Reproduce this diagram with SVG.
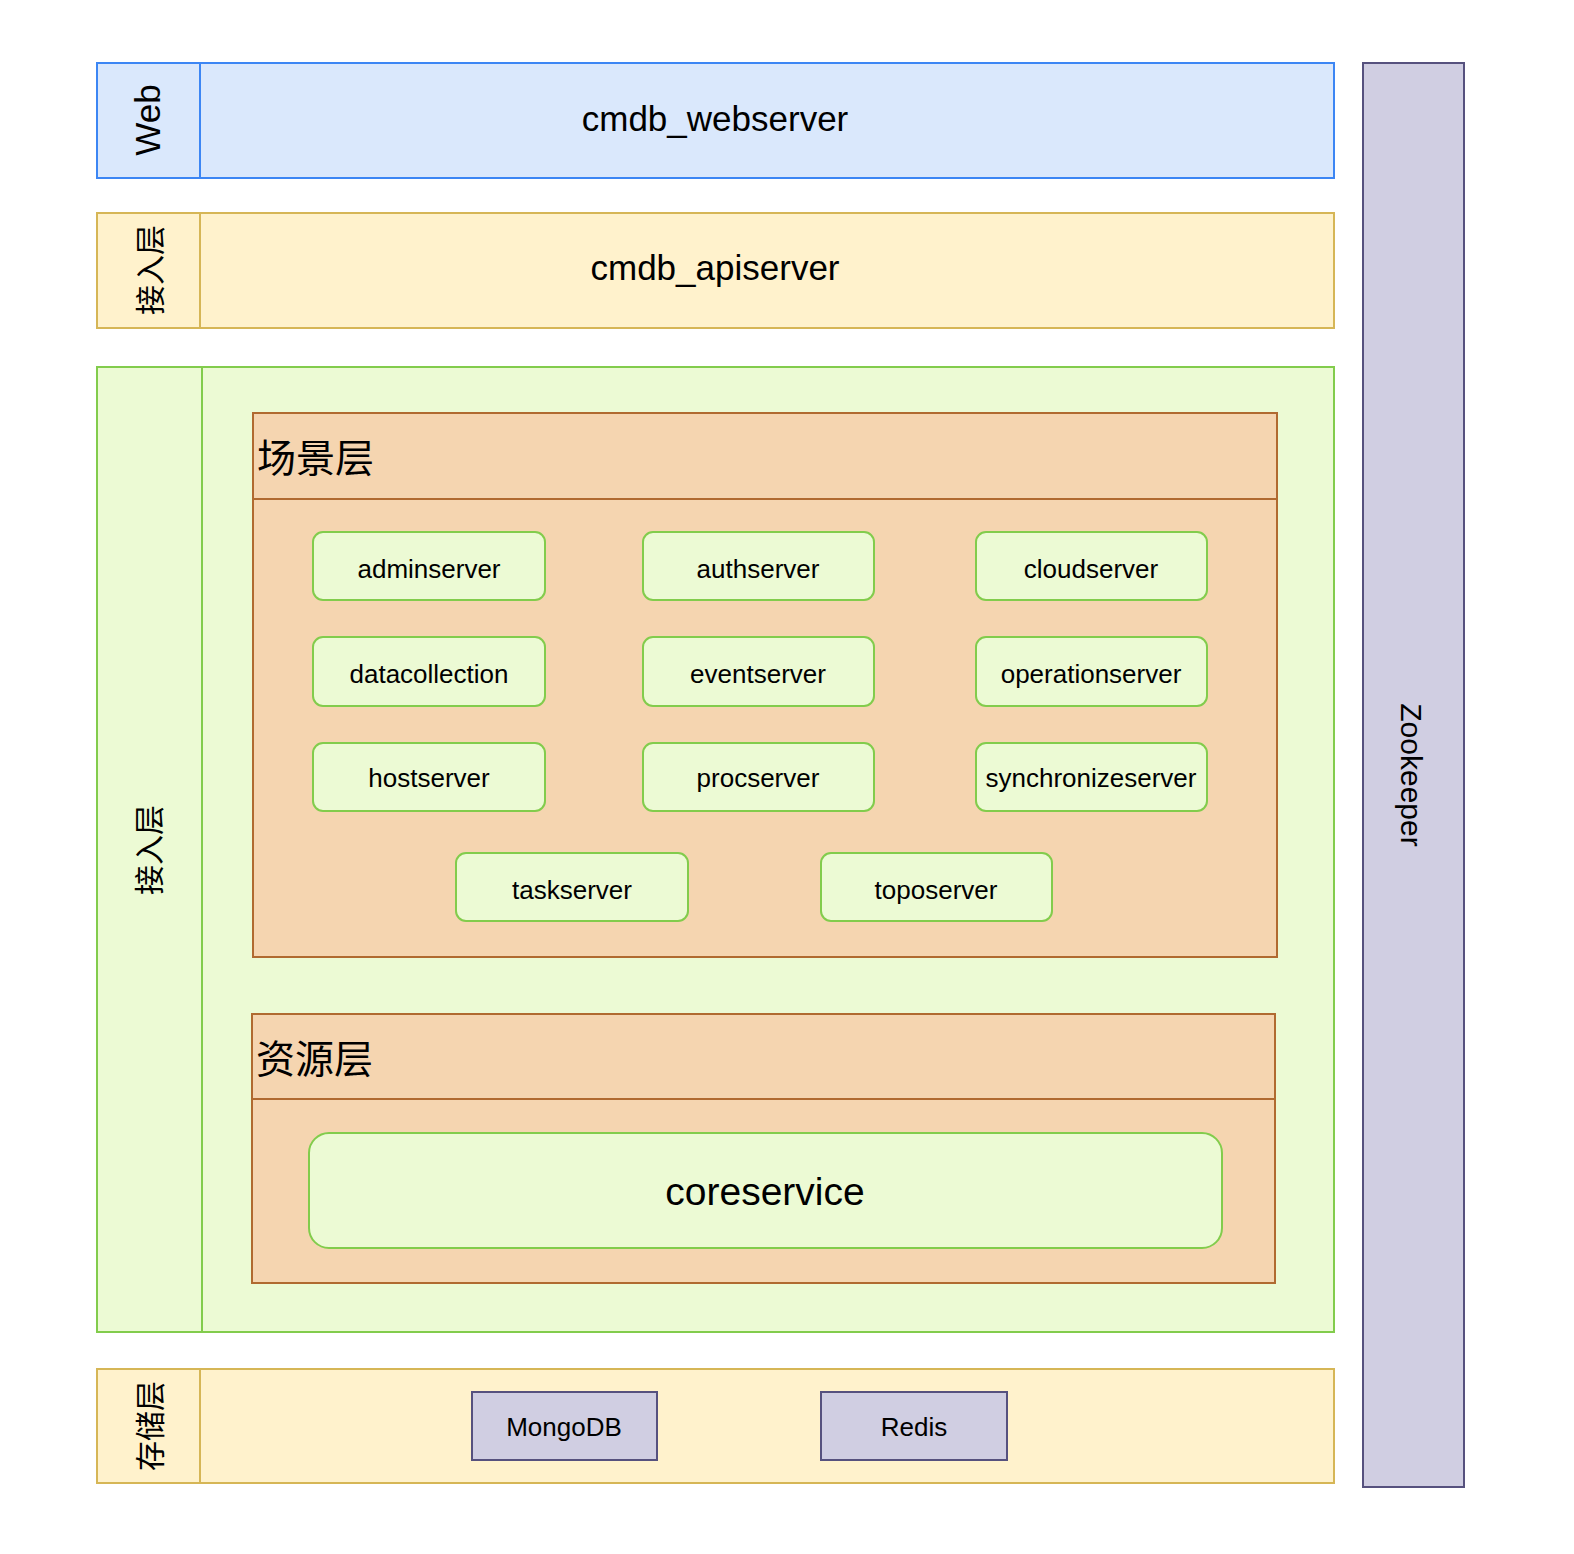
<svg xmlns="http://www.w3.org/2000/svg" width="1574" height="1554" viewBox="0 0 1574 1554">
<style>
text{font-family:"Liberation Sans",Arial,"Noto Sans CJK SC",sans-serif;fill:#000;text-anchor:middle}
.cjk{font-family:"Noto Sans CJK SC","Liberation Sans",sans-serif}
.blue{fill:#dae8fc;stroke:#3c86f4;stroke-width:2}
.yel{fill:#fff2cc;stroke:#d6b656;stroke-width:2}
.grn{fill:#ecfad4;stroke:#82cc4c;stroke-width:2}
.org{fill:#f5d5b0;stroke:#b06a30;stroke-width:2}
.pur{fill:#d0cee2;stroke:#56517e;stroke-width:2}
.svc{font-size:26px}
.big{font-size:35px}
.hdr{font-size:39px;text-anchor:start}
.lane{font-size:30px}
</style>
<rect width="1574" height="1554" fill="#fff"/>
<g id="web-layer">
<rect class="blue" x="97" y="63" width="1237" height="115"/>
<line x1="200" y1="63" x2="200" y2="178" stroke="#3c86f4" stroke-width="2"/>
<text class="big" transform="translate(160,120) rotate(-90)">Web</text>
<text class="big" x="715" y="131">cmdb_webserver</text>
</g>
<g id="api-layer">
<rect class="yel" x="97" y="213" width="1237" height="115"/>
<line x1="200" y1="213" x2="200" y2="328" stroke="#d6b656" stroke-width="2"/>
<text class="lane cjk" transform="translate(161,270) rotate(-90)">接入层</text>
<text class="big" x="715" y="280">cmdb_apiserver</text>
</g>
<g id="service-layer">
<rect class="grn" x="97" y="367" width="1237" height="965"/>
<line x1="202" y1="367" x2="202" y2="1332" stroke="#82cc4c" stroke-width="2"/>
<text class="lane cjk" transform="translate(160,850) rotate(-90)">接入层</text>
</g>
<g id="scene-layer">
<rect class="org" x="253" y="413" width="1024" height="544"/>
<line x1="253" y1="499" x2="1277" y2="499" stroke="#b06a30" stroke-width="2"/>
<text class="hdr cjk" x="257" y="472">场景层</text>
</g>
<g id="adminserver"><rect class="grn" x="313" y="532" width="232" height="68" rx="10"/><text class="svc" x="429" y="578">adminserver</text></g>
<g id="authserver"><rect class="grn" x="643" y="532" width="231" height="68" rx="10"/><text class="svc" x="758" y="578">authserver</text></g>
<g id="cloudserver"><rect class="grn" x="976" y="532" width="231" height="68" rx="10"/><text class="svc" x="1091" y="578">cloudserver</text></g>
<g id="datacollection"><rect class="grn" x="313" y="637" width="232" height="69" rx="10"/><text class="svc" x="429" y="683">datacollection</text></g>
<g id="eventserver"><rect class="grn" x="643" y="637" width="231" height="69" rx="10"/><text class="svc" x="758" y="683">eventserver</text></g>
<g id="operationserver"><rect class="grn" x="976" y="637" width="231" height="69" rx="10"/><text class="svc" x="1091" y="683">operationserver</text></g>
<g id="hostserver"><rect class="grn" x="313" y="743" width="232" height="68" rx="10"/><text class="svc" x="429" y="787">hostserver</text></g>
<g id="procserver"><rect class="grn" x="643" y="743" width="231" height="68" rx="10"/><text class="svc" x="758" y="787">procserver</text></g>
<g id="synchronizeserver"><rect class="grn" x="976" y="743" width="231" height="68" rx="10"/><text class="svc" x="1091" y="787">synchronizeserver</text></g>
<g id="taskserver"><rect class="grn" x="456" y="853" width="232" height="68" rx="10"/><text class="svc" x="572" y="899">taskserver</text></g>
<g id="toposerver"><rect class="grn" x="821" y="853" width="231" height="68" rx="10"/><text class="svc" x="936" y="899">toposerver</text></g>
<g id="resource-layer">
<rect class="org" x="252" y="1014" width="1023" height="269"/>
<line x1="252" y1="1099" x2="1275" y2="1099" stroke="#b06a30" stroke-width="2"/>
<text class="hdr cjk" x="256" y="1073">资源层</text>
</g>
<g id="coreservice"><rect class="grn" x="309" y="1133" width="913" height="115" rx="20"/><text x="765" y="1205" font-size="39">coreservice</text></g>
<g id="storage-layer">
<rect class="yel" x="97" y="1369" width="1237" height="114"/>
<line x1="200" y1="1369" x2="200" y2="1483" stroke="#d6b656" stroke-width="2"/>
<text class="lane cjk" transform="translate(161,1426) rotate(-90)">存储层</text>
</g>
<g id="mongodb"><rect class="pur" x="472" y="1392" width="185" height="68"/><text class="svc" x="564" y="1436">MongoDB</text></g>
<g id="redis"><rect class="pur" x="821" y="1392" width="186" height="68"/><text class="svc" x="914" y="1436">Redis</text></g>
<g id="zookeeper">
<rect class="pur" x="1363" y="63" width="101" height="1424"/>
<text transform="translate(1401,775) rotate(90)" font-size="30">Zookeeper</text>
</g>
<g id="connectors"></g>
</svg>
